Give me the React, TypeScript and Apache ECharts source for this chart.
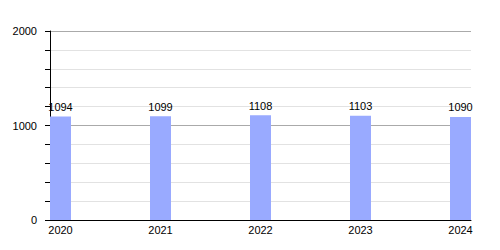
import React, { useEffect, useRef } from "react";
import * as echarts from "echarts";

const years = [2020, 2021, 2022, 2023, 2024];
const values = [1094, 1099, 1108, 1103, 1090];
const yLabels = [0, 1000, 2000];

export default function App() {
  const ref = useRef<HTMLDivElement>(null);
  useEffect(() => {
    if (!ref.current) return;
    const chart = echarts.init(ref.current, null, { renderer: "svg" });
    const font = "'Liberation Sans', Arial, sans-serif";
    chart.setOption({
      animation: false,
      textStyle: { fontFamily: font },
      grid: { left: 50, right: 29, top: 31, bottom: 30 },
      xAxis: {
        type: "value",
        min: 2019.895,
        max: 2024.105,
        axisLine: { show: true, lineStyle: { color: "#000", width: 1 } },
        axisTick: { show: false },
        splitLine: { show: false },
        axisLabel: {
          customValues: years,
          color: "#000",
          fontSize: 11,
          margin: 4,
          fontFamily: font,
          formatter: (v: number) => String(v),
        },
      },
      yAxis: {
        type: "value",
        min: 0,
        max: 2000,
        interval: 200,
        axisLine: { show: true, lineStyle: { color: "#000", width: 1 } },
        axisTick: { show: true, length: 5, lineStyle: { color: "#000" } },
        axisLabel: {
          color: "#000",
          fontSize: 11,
          margin: 13,
          fontFamily: font,
          formatter: (v: number) => (yLabels.includes(v) ? String(v) : ""),
        },
        splitLine: {
          show: true,
          lineStyle: { color: ["#aaaaaa", "#e2e2e2", "#e2e2e2", "#e2e2e2", "#e2e2e2"], width: 1 },
        },
      },
      series: [
        {
          type: "bar",
          barWidth: 21,
          data: years.map((y, i) => [y, values[i]]),
          itemStyle: { color: "#99aaff" },
          label: {
            show: true,
            position: "top",
            distance: 4,
            color: "#000",
            fontSize: 11,
            fontFamily: font,
            formatter: (p: any) => String(p.value[1]),
          },
        },
      ],
    });
    return () => chart.dispose();
  }, []);
  return <div ref={ref} style={{ width: 500, height: 250, position: "absolute", left: 0, top: 0 }} />;
}
